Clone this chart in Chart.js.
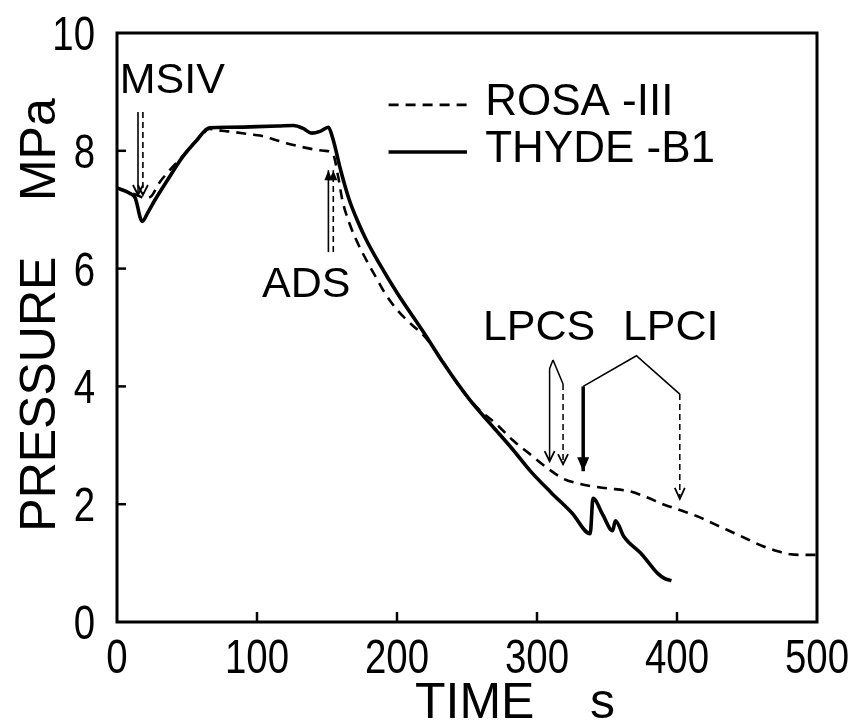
<!DOCTYPE html>
<html>
<head>
<meta charset="utf-8">
<script src="https://cdn.jsdelivr.net/npm/chart.js@4.4.1/dist/chart.umd.min.js"></script>
<style>
html,body{margin:0;padding:0;background:#fff;}
#wrap{width:856px;height:722px;position:relative;}
</style>
</head>
<body>
<div id="wrap"><canvas id="c"></canvas></div>
<script>
// ---- data ----
const seriesLabels = ['ROSA -III', 'THYDE -B1'];

const rosaTime = [0, 8, 14, 20, 24, 30, 38, 45, 52, 60, 66, 75, 83, 95, 102, 110, 121, 135, 148, 154, 158, 161, 166, 172, 178, 186, 191, 200, 210, 220, 230, 245, 258, 271, 283, 295, 307, 319, 328, 338, 350, 366, 378, 390, 402, 414, 426, 438, 450, 461, 472, 481, 490, 500];
const rosaPressure = [7.37, 7.30, 7.25, 7.20, 7.22, 7.45, 7.68, 7.86, 8.05, 8.25, 8.37, 8.34, 8.32, 8.28, 8.26, 8.21, 8.13, 8.05, 8.00, 7.96, 7.56, 7.16, 6.77, 6.43, 6.15, 5.81, 5.60, 5.30, 5.06, 4.84, 4.52, 3.98, 3.62, 3.36, 3.08, 2.85, 2.62, 2.43, 2.36, 2.31, 2.27, 2.22, 2.12, 2.00, 1.90, 1.80, 1.67, 1.54, 1.41, 1.29, 1.20, 1.15, 1.14, 1.14];

const thydeTime = [0, 9, 13, 18, 22, 27, 36, 47, 57, 66, 80, 100, 115, 126, 133, 139, 145, 151, 154, 160, 166, 172, 178, 187, 200, 219, 233, 252, 268, 283, 295, 310, 325, 338, 340, 347, 354, 356, 362, 366, 374, 380, 386, 391, 396];
const thydePressure = [7.37, 7.28, 7.20, 6.80, 6.95, 7.16, 7.50, 7.90, 8.18, 8.39, 8.40, 8.41, 8.42, 8.43, 8.38, 8.30, 8.33, 8.40, 8.22, 7.65, 7.16, 6.80, 6.49, 6.10, 5.59, 4.92, 4.40, 3.77, 3.33, 2.92, 2.57, 2.20, 1.85, 1.50, 2.10, 1.82, 1.55, 1.72, 1.45, 1.34, 1.17, 1.00, 0.83, 0.74, 0.70];

const xTickValues = [0, 100, 200, 300, 400, 500];
const yTickValues = [0, 2, 4, 6, 8, 10];
const xAxisTitle = 'TIME    s';
const yAxisTitle = 'PRESSURE    MPa';

// event annotations (in data units: time s, pressure MPa)
const eventLabels = ['MSIV', 'ADS', 'LPCS', 'LPCI'];
const eventLabelTime = [2, 103.6, 261.4, 361.4];
const eventLabelPressure = [8.98, 5.52, 4.79, 4.79];

const msivArrowTimes = [15, 18.5];
const msivArrowRange = [8.66, 7.25];
const adsArrowTimes = [151, 154.5];
const adsArrowRange = [6.28, 7.67];
const lpcsSolidPath = [[311.4, 4.45], [309, 4.30], [309, 2.73]];
const lpcsTipPath = [[311.4, 4.45], [318.6, 4.04]];
const lpcsDashedPath = [[318.6, 4.04], [318.6, 2.68]];
const lpciBracketPath = [[333, 4.00], [371, 4.52], [402, 3.87]];
const lpciSolidPath = [[333, 4.00], [333, 2.56]];
const lpciDashedPath = [[402, 3.87], [402, 2.09]];

const SANS = "'Liberation Sans', Arial, sans-serif";

function toPoints(xs, ys) { return xs.map((x, i) => ({ x: x, y: ys[i] })); }

const overlay = {
  id: 'overlay',
  afterDatasetsDraw(chart) {
    const ctx = chart.ctx;
    const xs = chart.scales.x, ys = chart.scales.y;
    const px = t => xs.getPixelForValue(t);
    const py = p => ys.getPixelForValue(p);
    const a = chart.chartArea;
    ctx.save();
    ctx.strokeStyle = '#000';
    ctx.fillStyle = '#000';
    ctx.lineCap = 'butt';
    ctx.lineJoin = 'miter';

    // frame
    ctx.setLineDash([]);
    ctx.lineWidth = 3;
    ctx.strokeRect(a.left, a.top, a.right - a.left, a.bottom - a.top);

    // inward ticks
    ctx.lineWidth = 2.5;
    ys.ticks.forEach(t => {
      if (t.value <= ys.min || t.value >= ys.max) return;
      ctx.beginPath(); ctx.moveTo(a.left, py(t.value)); ctx.lineTo(a.left + 9, py(t.value)); ctx.stroke();
    });
    xs.ticks.forEach(t => {
      if (t.value <= xs.min || t.value >= xs.max) return;
      ctx.beginPath(); ctx.moveTo(px(t.value), a.bottom); ctx.lineTo(px(t.value), a.bottom - 10); ctx.stroke();
    });

    // tick labels (condensed, as in the original lettering)
    ctx.font = '48px ' + SANS;
    ctx.textBaseline = 'alphabetic';
    ys.ticks.forEach(t => {
      ctx.save();
      ctx.translate(a.left - 22, py(t.value) + 17);
      ctx.scale(0.8, 1);
      ctx.textAlign = 'right';
      ctx.fillText(String(t.value), 0, 0);
      ctx.restore();
    });
    xs.ticks.forEach(t => {
      ctx.save();
      ctx.translate(px(t.value), a.bottom + 51);
      ctx.scale(0.8, 1);
      ctx.textAlign = 'center';
      ctx.fillText(String(t.value), 0, 0);
      ctx.restore();
    });

    // axis titles
    ctx.font = '50px ' + SANS;
    ctx.textAlign = 'left';
    ctx.fillText(xAxisTitle, 415, 718);
    ctx.save();
    ctx.translate(55, 315);
    ctx.rotate(-Math.PI / 2);
    ctx.textAlign = 'center';
    ctx.fillText(yAxisTitle, 0, 0);
    ctx.restore();

    function path(pts, dash, w) {
      ctx.setLineDash(dash ? [6, 4] : []);
      ctx.lineWidth = w;
      ctx.beginPath();
      pts.forEach((p, i) => { const X = px(p[0]), Y = py(p[1]); if (i) ctx.lineTo(X, Y); else ctx.moveTo(X, Y); });
      ctx.stroke();
      ctx.setLineDash([]);
    }
    function head(t, p, dir, filled, len, half) {
      const X = px(t), Y = py(p);
      ctx.setLineDash([]);
      ctx.lineWidth = 1.8;
      ctx.beginPath();
      ctx.moveTo(X - half, Y - dir * len);
      ctx.lineTo(X, Y);
      ctx.lineTo(X + half, Y - dir * len);
      if (filled) { ctx.closePath(); ctx.fill(); } else { ctx.stroke(); }
    }

    // MSIV arrows (down)
    msivArrowTimes.forEach((t, i) => {
      path([[t, msivArrowRange[0]], [t, msivArrowRange[1]]], i === 1, 1.6);
      head(t, msivArrowRange[1], 1, false, 10, 5);
    });
    // ADS arrows (up)
    adsArrowTimes.forEach((t, i) => {
      path([[t, adsArrowRange[0]], [t, adsArrowRange[1]]], i === 1, 1.6);
      head(t, adsArrowRange[1], -1, true, 10, 4);
    });
    // LPCS
    path(lpcsSolidPath, false, 1.5);
    head(lpcsSolidPath[2][0], lpcsSolidPath[2][1], 1, false, 10, 5);
    path(lpcsTipPath, false, 1.5);
    path(lpcsDashedPath, true, 1.5);
    head(lpcsDashedPath[1][0], lpcsDashedPath[1][1], 1, false, 10, 5);
    // LPCI
    path(lpciBracketPath, false, 1.6);
    path(lpciSolidPath, false, 3.5);
    head(lpciSolidPath[1][0], lpciSolidPath[1][1], 1, true, 14, 6);
    path(lpciDashedPath, true, 1.5);
    head(lpciDashedPath[1][0], lpciDashedPath[1][1], 1, false, 11, 5);

    // event labels
    ctx.font = '43px ' + SANS;
    ctx.textAlign = 'left';
    ctx.textBaseline = 'alphabetic';
    eventLabels.forEach((s, i) => ctx.fillText(s, px(eventLabelTime[i]), py(eventLabelPressure[i])));

    // legend
    const ds = chart.data.datasets;
    const legendLineX = [px(194), px(250)];
    const legendLineY = [py(8.78), py(7.98)];
    const legendTextBase = [py(8.61), py(7.81)];
    ctx.font = '44px ' + SANS;
    ds.forEach((d, i) => {
      ctx.setLineDash(d.borderDash || []);
      ctx.lineWidth = d.borderWidth;
      ctx.beginPath(); ctx.moveTo(legendLineX[0], legendLineY[i]); ctx.lineTo(legendLineX[1], legendLineY[i]); ctx.stroke();
      ctx.setLineDash([]);
      ctx.fillText(d.label, px(263), legendTextBase[i]);
    });
    ctx.restore();
  }
};

new Chart(document.getElementById('c'), {
  type: 'line',
  data: {
    datasets: [
      {
        label: seriesLabels[0],
        data: toPoints(rosaTime, rosaPressure),
        borderColor: '#000',
        borderWidth: 2.6,
        borderDash: [10, 7],
        pointRadius: 0,
        fill: false,
        cubicInterpolationMode: 'monotone'
      },
      {
        label: seriesLabels[1],
        data: toPoints(thydeTime, thydePressure),
        borderColor: '#000',
        borderWidth: 3.6,
        pointRadius: 0,
        fill: false,
        cubicInterpolationMode: 'monotone'
      }
    ]
  },
  options: {
    responsive: true,
    maintainAspectRatio: false,
    animation: false,
    events: [],
    layout: { padding: { top: 33, right: 39, left: 0, bottom: 0 } },
    plugins: { legend: { display: false }, tooltip: { enabled: false } },
    scales: {
      x: {
        type: 'linear',
        min: 0, max: 500,
        afterBuildTicks: s => { s.ticks = xTickValues.map(v => ({ value: v })); },
        afterFit: s => { s.height = 100; },
        grid: { display: false, drawTicks: false },
        border: { display: false },
        ticks: { display: false },
        title: { display: false, text: xAxisTitle }
      },
      y: {
        type: 'linear',
        min: 0, max: 10,
        afterBuildTicks: s => { s.ticks = yTickValues.map(v => ({ value: v })); },
        afterFit: s => { s.width = 117; },
        grid: { display: false, drawTicks: false },
        border: { display: false },
        ticks: { display: false },
        title: { display: false, text: yAxisTitle }
      }
    }
  },
  plugins: [overlay]
});
</script>
</body>
</html>
